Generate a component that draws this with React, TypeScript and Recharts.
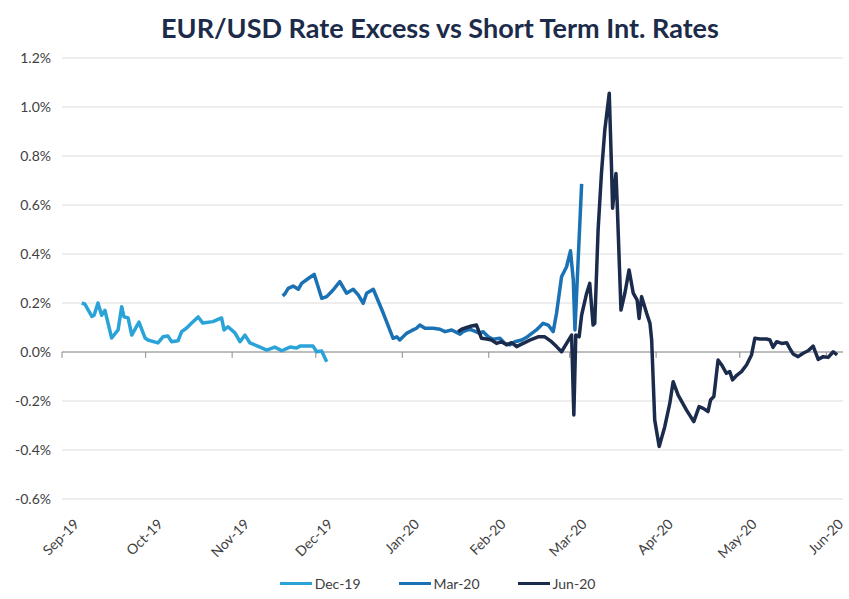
import React from 'react';
import {
  LineChart,
  Line,
  XAxis,
  YAxis,
  CartesianGrid,
  ReferenceLine,
  Legend,
} from 'recharts';

// x values are days counted from 1 Sep 2019, y values are in percent
const monthDays = [0, 30, 61, 91, 122, 153, 182, 213, 243, 274];
const monthLabels = [
  'Sep-19', 'Oct-19', 'Nov-19', 'Dec-19', 'Jan-20',
  'Feb-20', 'Mar-20', 'Apr-20', 'May-20', 'Jun-20',
];
const yTicks = [-0.6, -0.4, -0.2, 0, 0.2, 0.4, 0.6, 0.8, 1.0, 1.2];

const dec19Days = [
  7.1, 8.2, 10.7, 11.5, 12.9, 14.2, 15.4, 17.8, 20.1, 21.4, 22.2, 23.7, 25.0,
  27.6, 29.8, 30.8, 34.4, 36.2, 38.0, 39.3, 41.6, 42.9, 44.7, 46.5, 48.8, 50.5,
  54.1, 57.2, 58.1, 59.5, 62.0, 63.8, 65.6, 67.4, 71.0, 73.4, 76.3, 78.8, 81.7,
  84.1, 85.3, 90.0, 91.3, 93.1, 94.9,
];
const dec19Values = [
  0.2, 0.195, 0.145, 0.15, 0.2, 0.15, 0.17, 0.057, 0.09, 0.185, 0.144, 0.139,
  0.069, 0.122, 0.057, 0.049, 0.037, 0.062, 0.065, 0.042, 0.046, 0.083, 0.098,
  0.118, 0.143, 0.118, 0.124, 0.139, 0.09, 0.103, 0.078, 0.042, 0.069, 0.037,
  0.02, 0.008, 0.02, 0.005, 0.02, 0.016, 0.024, 0.024, 0.001, 0.004, -0.04,
];

const mar20Days = [
  79.1, 79.9, 81.1, 82.9, 84.7, 85.9, 88.3, 90.4, 93.1, 94.9, 97.2, 99.6,
  102.0, 104.4, 106.2, 108.0, 109.2, 111.6, 115.2, 118.7, 120.0, 121.1, 123.5,
  125.3, 127.1, 128.3, 130.1, 133.1, 135.5, 137.3, 139.7, 142.7, 143.8, 146.2,
  149.8, 151.0, 152.8, 154.6, 157.0, 158.8, 160.6, 162.4, 164.8, 166.6, 168.4,
  170.1, 172.5, 174.3, 176.1, 177.3, 179.1, 180.9, 182.3, 183.3, 183.9, 186.3,
];
const mar20Values = [
  0.229, 0.237, 0.26, 0.269, 0.256, 0.28, 0.3, 0.317, 0.219, 0.226, 0.253,
  0.287, 0.24, 0.256, 0.233, 0.199, 0.24, 0.256, 0.158, 0.056, 0.062, 0.049,
  0.076, 0.087, 0.097, 0.11, 0.097, 0.097, 0.093, 0.083, 0.09, 0.073, 0.083,
  0.093, 0.076, 0.083, 0.062, 0.052, 0.056, 0.035, 0.029, 0.042, 0.049, 0.06,
  0.076, 0.09, 0.117, 0.11, 0.083, 0.158, 0.307, 0.348, 0.413, 0.294, 0.09,
  0.686,
];

const jun20Days = [
  142.0, 143.3, 145.1, 146.8, 148.6, 150.4, 152.8, 154.0, 155.8, 157.6, 159.4,
  161.2, 163.0, 164.2, 165.9, 168.4, 170.7, 173.1, 175.5, 177.3, 179.1, 180.9,
  182.7, 183.5, 184.2, 185.4, 186.3, 188.1, 189.2, 190.4, 191.0, 192.2, 193.4,
  194.6, 196.2, 197.0, 197.4, 198.6, 199.0, 200.4, 201.8, 203.3, 204.8, 206.2,
  206.9, 207.8, 209.6, 210.8, 211.4, 212.5, 214.1, 216.1, 217.9, 219.1, 220.9,
  223.9, 226.5, 228.4, 229.9, 231.6, 232.5, 233.7, 235.2, 236.5, 238.2, 239.4,
  240.4, 242.0, 243.6, 245.4, 247.2, 248.4, 250.2, 252.6, 253.8, 254.9, 256.2,
  258.0, 259.8, 260.9, 262.1, 263.9, 265.7, 267.5, 269.3, 271.1, 272.9, 274.7,
  276.5, 277.9,
];
const jun20Values = [
  0.083, 0.093, 0.1, 0.106, 0.11, 0.056, 0.052, 0.049, 0.035, 0.042, 0.029,
  0.038, 0.022, 0.029, 0.038, 0.052, 0.062, 0.062, 0.042, 0.022, 0.001, 0.035,
  0.069, -0.257, 0.069, 0.062, 0.151, 0.24, 0.28, 0.11, 0.117, 0.498, 0.729,
  0.906, 1.056, 0.756, 0.587, 0.729, 0.62, 0.171, 0.24, 0.335, 0.24, 0.212,
  0.137, 0.226, 0.158, 0.117, 0.049, -0.278, -0.386, -0.305, -0.21, -0.121,
  -0.176, -0.237, -0.284, -0.223, -0.23, -0.243, -0.196, -0.182, -0.033,
  -0.053, -0.087, -0.08, -0.114, -0.094, -0.08, -0.053, -0.012, 0.056, 0.053,
  0.053, 0.049, 0.019, 0.042, 0.035, 0.038, 0.015, -0.008, -0.019, -0.005,
  0.005, 0.024, -0.03, -0.019, -0.022, 0.001, -0.012,
];

const toRows = (days: number[], values: number[]) =>
  days.map((day, i) => ({ day, v: values[i] }));

const SERIES = [
  { name: 'Dec-19', color: '#2aa3d8', data: toRows(dec19Days, dec19Values) },
  { name: 'Mar-20', color: '#1a72b5', data: toRows(mar20Days, mar20Values) },
  { name: 'Jun-20', color: '#1b2b4b', data: toRows(jun20Days, jun20Values) },
];

const FONT = 'Lato, "Open Sans", sans-serif';

const MonthTick = (props: any) => {
  const { x, y, payload } = props;
  const ax = x + 18;
  const ay = y + 24;
  return (
    <text
      x={ax}
      y={ay}
      transform={`rotate(-45, ${ax}, ${ay})`}
      textAnchor='end'
      fontSize={14}
      fontFamily={FONT}
      fill='#404040'
    >
      {monthLabels[monthDays.indexOf(payload.value)]}
    </text>
  );
};

const renderLegend = () => (
  <div style={{ display: 'flex', justifyContent: 'center', fontFamily: FONT, fontSize: 14, color: '#404040', paddingLeft: 70 }}>
    {SERIES.map((s) => (
      <div key={s.name} style={{ display: 'flex', alignItems: 'center', marginRight: 38 }}>
        <div style={{ width: 32, height: 3, background: s.color, marginRight: 3 }} />
        <span>{s.name}</span>
      </div>
    ))}
  </div>
);

const App = () => {
  return (
    <div style={{ position: 'absolute', left: 0, top: 0, width: 849, height: 599, background: '#fff' }}>
      <div
        style={{
          position: 'absolute',
          top: 11,
          left: 31,
          width: 818,
          textAlign: 'center',
          fontFamily: FONT,
          fontWeight: 700,
          fontSize: 27,
          color: '#1c2b4a',
        }}
      >
        EUR/USD Rate Excess vs Short Term Int. Rates
      </div>
      <LineChart width={849} height={599} margin={{ top: 58, right: 6, bottom: 0, left: 0 }}>
        <CartesianGrid vertical={false} stroke='#dcdcdc' />
        <XAxis
          type='number'
          dataKey='day'
          domain={[0, 280]}
          ticks={monthDays}
          interval={0}
          tick={<MonthTick />}
          tickLine={false}
          axisLine={false}
          tickSize={0}
          height={76}
          allowDuplicatedCategory={false}
        />
        <YAxis
          type='number'
          domain={[-0.6, 1.2]}
          ticks={yTicks}
          interval={0}
          width={62}
          tickLine={false}
          axisLine={false}
          tickSize={0}
          tickMargin={11}
          tickFormatter={(v: number) => `${v.toFixed(1)}%`}
          tick={{ fontSize: 14, fontFamily: FONT, fill: '#404040' }}
        />
        <ReferenceLine y={0} stroke='#8c8c8c' strokeWidth={1} />
        {monthDays.map((d) => (
          <ReferenceLine
            key={d}
            segment={[{ x: d, y: 0 }, { x: d, y: -0.024 }]}
            stroke='#8c8c8c'
            strokeWidth={1}
          />
        ))}
        {SERIES.map((s) => (
          <Line
            key={s.name}
            name={s.name}
            data={s.data}
            dataKey='v'
            type='linear'
            stroke={s.color}
            strokeWidth={3.5}
            strokeLinejoin='round'
            dot={false}
            isAnimationActive={false}
          />
        ))}
        <Legend verticalAlign='bottom' height={24} content={renderLegend} />
      </LineChart>
    </div>
  );
};

export default App;
